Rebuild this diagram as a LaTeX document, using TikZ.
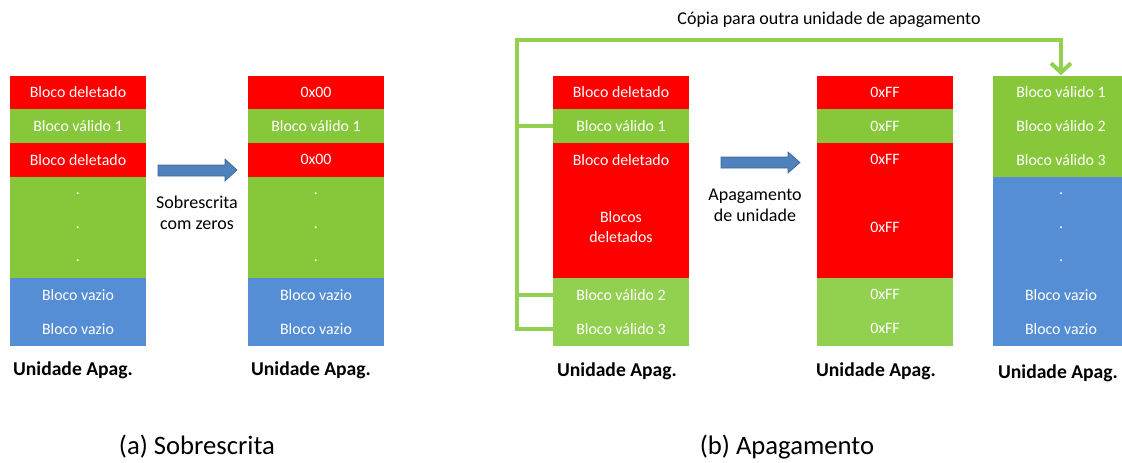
\documentclass[tikz,border=0pt]{standalone}
\usepackage{fontspec}
\setmainfont{Carlito}
\usetikzlibrary{arrows.meta}
\definecolor{cred}{HTML}{FF0000}
\definecolor{cgreen}{HTML}{86C83A}
\definecolor{clgreen}{HTML}{92D050}
\definecolor{cblue}{HTML}{558ED5}
\definecolor{carrow}{HTML}{4F81BD}
\begin{document}
\begin{tikzpicture}[x=0.75pt,y=-0.75pt,
 blk/.style={rectangle, inner sep=0pt, minimum width=102pt, minimum height=25.3125pt, text=white, font=\fontsize{11.9}{15}\selectfont, align=center},
 txt/.style={font=\fontsize{13.5}{15.75}\selectfont, align=center, inner sep=0pt},
 lab/.style={font=\bfseries\fontsize{14.7}{16}\selectfont, inner sep=0pt},
 captext/.style={font=\fontsize{20}{22}\selectfont, inner sep=0pt},
 copyline/.style={draw=clgreen, line width=3pt},
 barrow/.style={fill=carrow, draw=carrow!80!black, line width=0.5pt}]
\useasboundingbox (0,0) rectangle (1122,462);
\clip (0,0) rectangle (1122,462);
% column 1
\node[blk,fill=cred] (a1) at (78,92.375) {Bloco deletado};
\node[blk,fill=cgreen] (a2) at (78,126.125) {Bloco válido 1};
\node[blk,fill=cred] (a3) at (78,159.875) {Bloco deletado};
\node[blk,fill=cgreen,minimum height=75.9375pt] (a4) at (78,227.375) {};
\node[blk] (a4d1) at (78,193.625) {.};
\node[blk] (a4d2) at (78,227.375) {.};
\node[blk] (a4d3) at (78,261.125) {.};
\node[blk,fill=cblue] (a7) at (78,294.875) {Bloco vazio};
\node[blk,fill=cblue] (a8) at (78,328.625) {Bloco vazio};
\node[lab] (la) at (73,370) {Unidade Apag.};
% arrow 1
\path[barrow] (158,165)--(225,165)--(225,159)--(237,170)--(225,181)--(225,176)--(158,176)--cycle;
\node[txt] (ta) at (197,213) {Sobrescrita\\com zeros};
% column 2
\node[blk,fill=cred] (c1) at (316,92.375) {0x00};
\node[blk,fill=cgreen] (c2) at (316,126.125) {Bloco válido 1};
\node[blk,fill=cred] (c3) at (316,159.875) {0x00};
\node[blk,fill=cgreen,minimum height=75.9375pt] (c4) at (316,227.375) {};
\node[blk] (c4d1) at (316,193.625) {.};
\node[blk] (c4d2) at (316,227.375) {.};
\node[blk] (c4d3) at (316,261.125) {.};
\node[blk,fill=cblue] (c7) at (316,294.875) {Bloco vazio};
\node[blk,fill=cblue] (c8) at (316,328.625) {Bloco vazio};
\node[lab] (lc) at (311,370) {Unidade Apag.};
% column 3
\node[blk,fill=cred] (b1) at (621,92.375) {Bloco deletado};
\node[blk,fill=cgreen] (b2) at (621,126.125) {Bloco válido 1};
\node[blk,fill=cred,minimum height=101.25pt] (b3) at (621,210.5) {};
\node[blk] (b3t) at (621,159.875) {Bloco deletado};
\node[blk] (b3m) at (621,227.375) {Blocos\\deletados};
\node[blk,fill=clgreen] (b7) at (621,294.875) {Bloco válido 2};
\node[blk,fill=clgreen] (b8) at (621,328.625) {Bloco válido 3};
\node[lab] (lb) at (617,371) {Unidade Apag.};
% arrow 2
\path[barrow] (721,157)--(788,157)--(788,152)--(800,162.5)--(788,173)--(788,168)--(721,168)--cycle;
\node[txt] (tb) at (755,205) {Apagamento\\de unidade};
% column 4
\node[blk,fill=cred] (d1) at (885,92.375) {0xFF};
\node[blk,fill=cgreen] (d2) at (885,126.125) {0xFF};
\node[blk,fill=cred,minimum height=101.25pt] (d3) at (885,210.5) {};
\node[blk] (d3t) at (885,159.875) {0xFF};
\node[blk] (d3m) at (885,227.375) {0xFF};
\node[blk,fill=clgreen] (d7) at (885,294.875) {0xFF};
\node[blk,fill=clgreen] (d8) at (885,328.625) {0xFF};
\node[lab] (ld) at (876,371) {Unidade Apag.};
% column 5
\node[blk,fill=cgreen,minimum height=75.9375pt] (e1) at (1061,126.125) {};
\node[blk] (e1a) at (1061,92.375) {Bloco válido 1};
\node[blk] (e1b) at (1061,126.125) {Bloco válido 2};
\node[blk] (e1c) at (1061,159.875) {Bloco válido 3};
\node[blk,fill=cblue,minimum height=126.5625pt] (e4) at (1061,261.125) {};
\node[blk] (e4d1) at (1061,193.625) {.};
\node[blk] (e4d2) at (1061,227.375) {.};
\node[blk] (e4d3) at (1061,261.125) {.};
\node[blk] (e7) at (1061,294.875) {Bloco vazio};
\node[blk] (e8) at (1061,328.625) {Bloco vazio};
\node[lab] (le) at (1058,373) {Unidade Apag.};
% copy connector
\coordinate (bt) at (517,40);
\draw[copyline,-{Straight Barb[length=7pt,width=15pt]}] (b8.west) -- (b8.west -| bt) -- (bt) -| (e1.north);
\draw[copyline] (b2.west) -- (b2.west -| bt);
\draw[copyline] (b7.west) -- (b7.west -| bt);
\node[font=\fontsize{13.5}{15}\selectfont, inner sep=0pt] (tc) at (829,20) {Cópia para outra unidade de apagamento};
% captions
\node[captext] (capa) at (197,447) {(a) Sobrescrita};
\node[captext] (capb) at (787,447) {(b) Apagamento};
\end{tikzpicture}
\end{document}
